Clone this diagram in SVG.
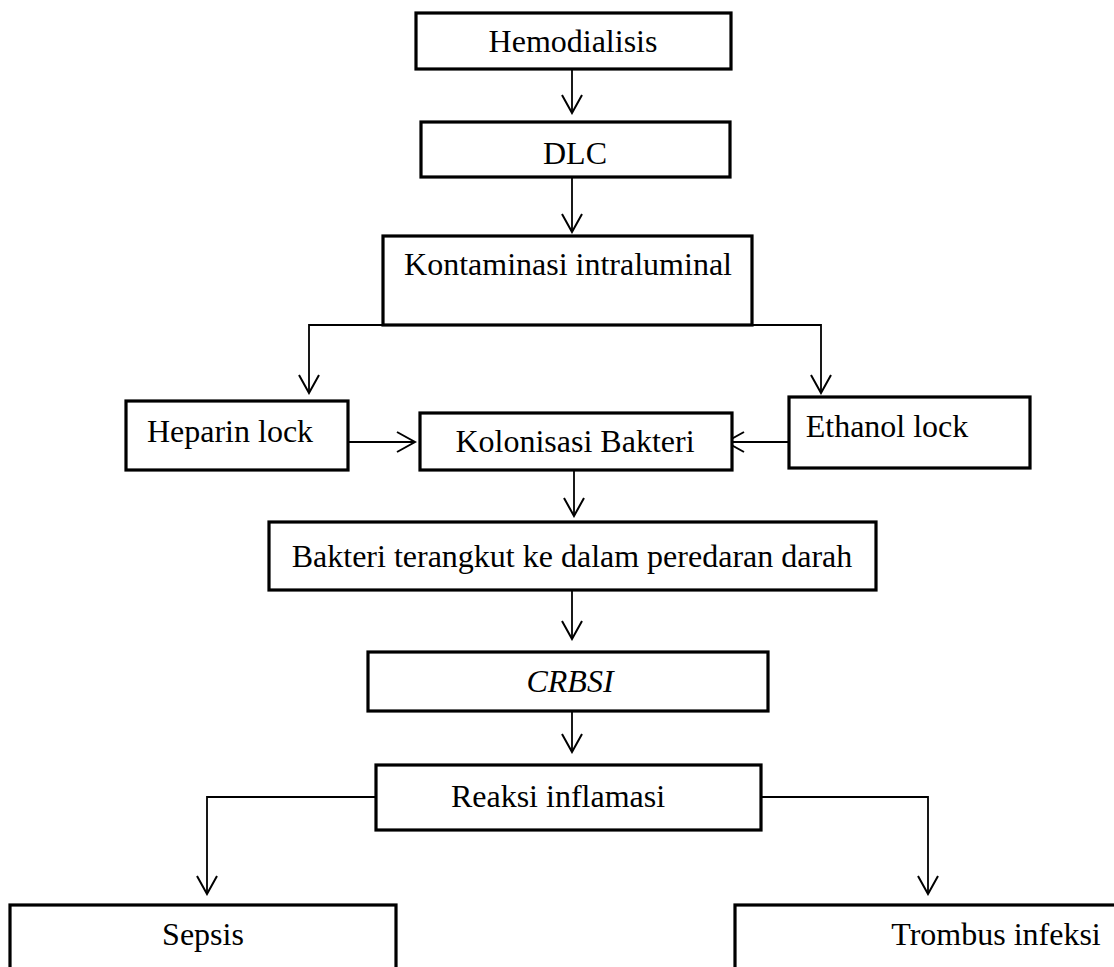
<svg xmlns="http://www.w3.org/2000/svg" width="1114" height="967" viewBox="0 0 1114 967">
<style>
.box{fill:#fff;stroke:#000;stroke-width:3.2}
.t{font-family:"Liberation Serif","Times New Roman",serif;font-size:32px;fill:#000;text-anchor:middle}
.c{fill:none;stroke:#000;stroke-width:1.8;marker-end:url(#ah)}
</style>
<defs>
<marker id="ah" markerUnits="userSpaceOnUse" viewBox="-21 -12 23 24" refX="0" refY="0" markerWidth="23" markerHeight="24" orient="auto">
<path d="M-18,-10 L0,0 L-18,10" fill="none" stroke="#000" stroke-width="2"/>
</marker>
</defs>
<rect width="1114" height="967" fill="#fff"/>
<g id="connectors">
<path class="c" d="M572,69 V113"/>
<path class="c" d="M572,177 V232"/>
<path class="c" d="M383,325 H309 V393"/>
<path class="c" d="M752,325 H821 V393"/>
<path class="c" d="M348,442 H415"/>
<path class="c" d="M789,442 H726"/>
<path class="c" d="M574,470 V516"/>
<path class="c" d="M572,590 V639"/>
<path class="c" d="M572,711 V752"/>
<path class="c" d="M376,797 H207 V894"/>
<path class="c" d="M761,797 H928 V894"/>
</g>
<g id="hemodialisis"><rect class="box" x="416" y="13" width="315" height="56"/><text class="t" x="573" y="52">Hemodialisis</text></g>
<g id="dlc"><rect class="box" x="421" y="122" width="309" height="55"/><text class="t" x="575" y="164">DLC</text></g>
<g id="kontaminasi"><rect class="box" x="383" y="236" width="369" height="89"/><text class="t" x="568" y="275">Kontaminasi intraluminal</text></g>
<g id="heparin"><rect class="box" x="126" y="401" width="222" height="69"/><text class="t" x="230" y="442">Heparin lock</text></g>
<g id="kolonisasi"><rect class="box" x="420" y="413" width="312" height="57"/><text class="t" x="575" y="452">Kolonisasi Bakteri</text></g>
<g id="ethanol"><rect class="box" x="789" y="397" width="241" height="71"/><text class="t" x="887" y="437">Ethanol lock</text></g>
<g id="bakteri"><rect class="box" x="269" y="522" width="607" height="68"/><text class="t" x="572" y="567">Bakteri terangkut ke dalam peredaran darah</text></g>
<g id="crbsi"><rect class="box" x="368" y="652" width="400" height="59"/><text class="t" x="570" y="692" font-style="italic">CRBSI</text></g>
<g id="reaksi"><rect class="box" x="376" y="765" width="385" height="65"/><text class="t" x="558" y="807">Reaksi inflamasi</text></g>
<g id="sepsis"><rect class="box" x="10" y="905" width="386" height="100"/><text class="t" x="203" y="945">Sepsis</text></g>
<g id="trombus"><rect class="box" x="735" y="905" width="420" height="100"/><text class="t" x="996" y="945">Trombus infeksi</text></g>
</svg>
